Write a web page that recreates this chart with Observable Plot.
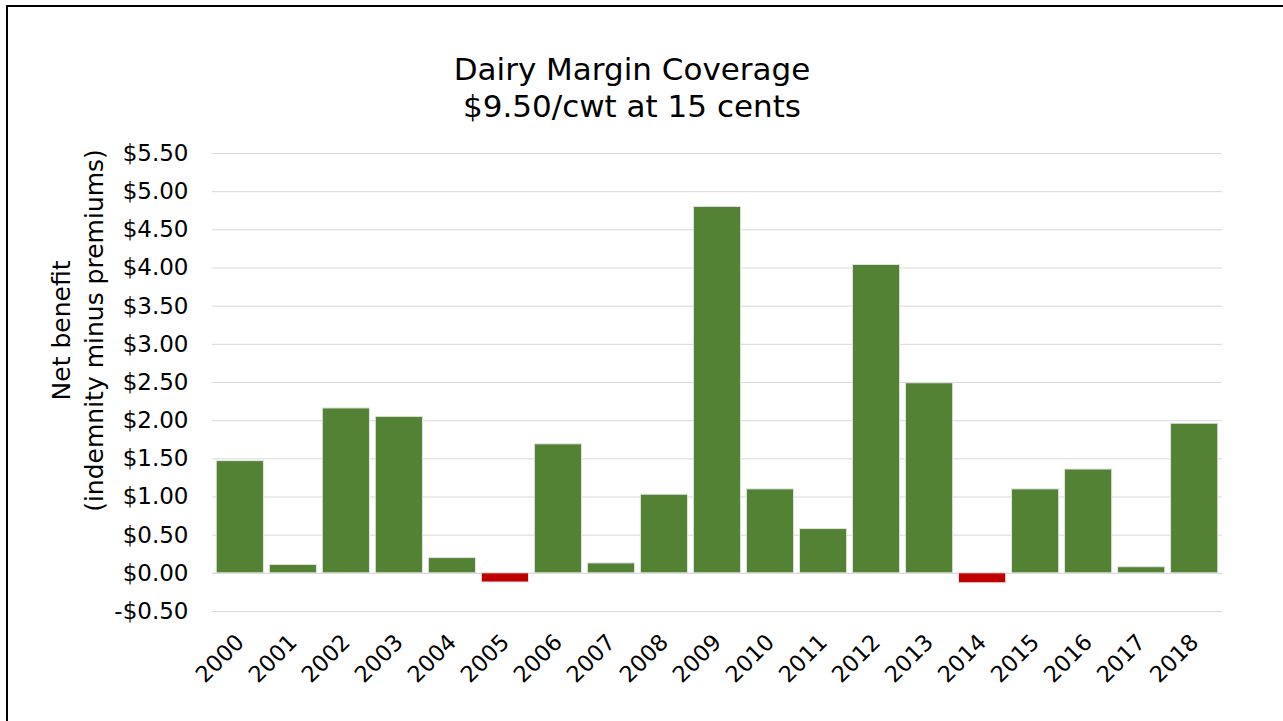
<!DOCTYPE html>
<html>
<head>
<meta charset="utf-8">
<script src="https://cdn.jsdelivr.net/npm/d3@7"></script>
<script src="https://cdn.jsdelivr.net/npm/@observablehq/plot@0.6"></script>
<style>
  html, body { margin: 0; padding: 0; background: #fff; }
  #wrap { position: relative; width: 1283px; height: 721px; overflow: hidden; font-family: "DejaVu Sans", sans-serif; color: #000; }
  #frame { position: absolute; left: 6px; top: 5px; width: 1300px; height: 740px; border: 2px solid #000; box-sizing: border-box; }
  #title { position: absolute; left: 0; top: 51px; width: 1264px; text-align: center; font-size: 31px; line-height: 37px; font-weight: normal; }
  #chart { position: absolute; left: 0; top: 130px; }
</style>
</head>
<body>
<div id="wrap">
  <div id="frame"></div>
  <div id="title">Dairy Margin Coverage<br>$9.50/cwt at 15 cents</div>
  <div id="chart"></div>
</div>
<script>
const years = ["2000","2001","2002","2003","2004","2005","2006","2007","2008","2009","2010","2011","2012","2013","2014","2015","2016","2017","2018"];
const netBenefit = [1.47, 0.11, 2.16, 2.05, 0.20, -0.12, 1.69, 0.13, 1.03, 4.80, 1.10, 0.58, 4.04, 2.49, -0.13, 1.10, 1.36, 0.08, 1.96];
const yTicks = [-0.5, 0, 0.5, 1, 1.5, 2, 2.5, 3, 3.5, 4, 4.5, 5, 5.5];
const yLabel = "Net benefit\n(indemnity minus premiums)";

const data = years.map((y, i) => ({year: y, value: netBenefit[i]}));
const fmt = d => (d < 0 ? "-$" : "$") + Math.abs(d).toFixed(2);

const chart = Plot.plot({
  width: 1283,
  height: 591,
  marginLeft: 212,
  marginRight: 61,
  marginTop: 23,
  marginBottom: 110,
  style: {fontFamily: "DejaVu Sans, sans-serif", color: "#000", background: "transparent", overflow: "visible"},
  x: {type: "band", domain: years, paddingInner: 0.11, paddingOuter: 0.08, round: false},
  y: {domain: [-0.5, 5.5]},
  marks: [
    Plot.gridY(yTicks, {stroke: "#d9d9d9", strokeOpacity: 1, strokeWidth: 1}),
    Plot.ruleY([0], {stroke: "#d9d9d9", strokeWidth: 1}),
    Plot.barY(data, {x: "year", y: "value", fill: d => d.value < 0 ? "#C00000" : "#548235", stroke: "#e4e4e4", strokeWidth: 1}),
    Plot.axisY({ticks: yTicks, tickFormat: fmt, tickSize: 0, tickPadding: 24, fontSize: 23, label: null}),
    Plot.axisX({tickRotate: -45, tickSize: 0, tickPadding: 27, fontSize: 22.5, label: null}),
    Plot.text([yLabel], {frameAnchor: "left", dx: -137, dy: -52, rotate: -90, fontSize: 25, lineHeight: 1.32, textAnchor: "middle", lineAnchor: "middle"})
  ]
});
document.getElementById("chart").appendChild(chart);
</script>
</body>
</html>
